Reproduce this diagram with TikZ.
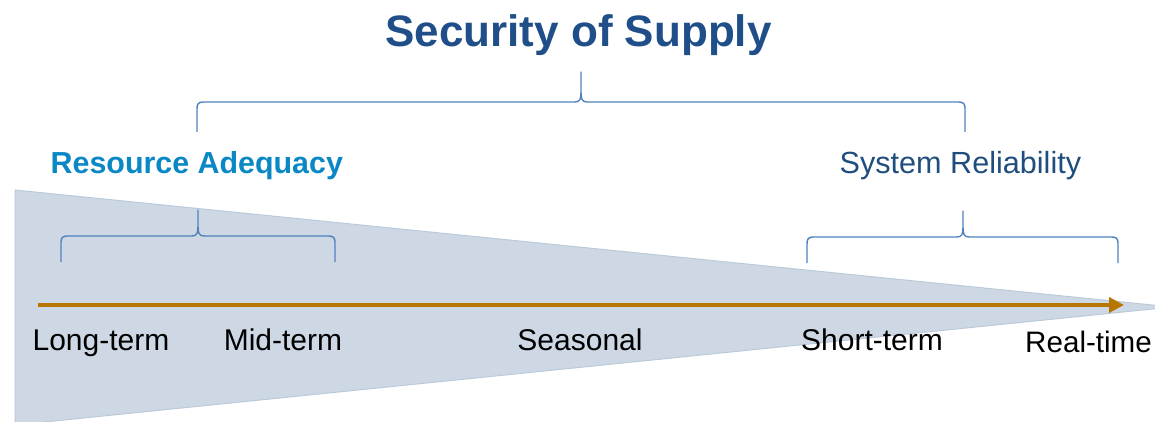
\documentclass[tikz,border=0pt]{standalone}
\usepackage{fontspec}
\setmainfont{Liberation Sans}
\usetikzlibrary{arrows.meta}
\definecolor{titleblue}{HTML}{1F4E89}
\definecolor{relblue}{HTML}{1F4E7E}
\definecolor{adeqblue}{HTML}{0A87C5}
\definecolor{braceblue}{HTML}{4F81BD}
\definecolor{wedgefill}{HTML}{CED8E4}
\definecolor{wedgeedge}{HTML}{BACADB}
\definecolor{timeline}{HTML}{B77600}
\newcommand\mybrace[6]{% x1 x2 xt ybottom yhoriz ytip
  \draw[bracestyle] (#1,#4) -- (#1,#5+8) .. controls (#1,#5+1) and (#1+1,#5) .. (#1+8,#5)
    -- (#3-6,#5) .. controls (#3-1,#5) and (#3,#5-3) .. (#3,#5-10) -- (#3,#6)
    -- (#3,#5-10) .. controls (#3,#5-3) and (#3+1,#5) .. (#3+6,#5)
    -- (#2-8,#5) .. controls (#2-1,#5) and (#2,#5+1) .. (#2,#5+8) -- (#2,#4);}
\tikzset{
  bracestyle/.style={draw=braceblue, line width=1.4pt, line join=round},
  wedge/.style={fill=wedgefill, draw=wedgeedge, line width=1pt},
  timeaxis/.style={draw=timeline, line width=4.7pt, -{Triangle[length=15pt,width=15pt]}},
  ticklabel/.style={anchor=base, font=\fontsize{30}{34}\selectfont, text=black, inner sep=0pt},
  headlabel/.style={anchor=base west, font=\fontsize{30.6}{34}\selectfont, inner sep=0pt},
  titlelabel/.style={anchor=base, font=\fontsize{44}{50}\selectfont\bfseries, text=titleblue, inner sep=0pt}
}
\begin{document}
\begin{tikzpicture}[x=1pt, y=-1pt]
\useasboundingbox (0,0) rectangle (1155,422);
\begin{scope}
\clip (0,0) rectangle (1155,422);
\draw[wedge] (15,190) -- (1172,307) -- (15,425) -- cycle;
\end{scope}
\node[ticklabel, anchor=base west, font=\fontsize{29.6}{34}\selectfont] (real) at (1025,352) {Real-time};
\node[titlelabel] (title) at (578.5,47) {Security of Supply};
\mybrace{197}{965}{581}{132}{102}{72}
\node[headlabel, font=\fontsize{30.4}{34}\selectfont\bfseries, text=adeqblue] (adeq) at (50.5,173) {Resource Adequacy};
\node[headlabel, text=relblue] (rel) at (839.5,173) {System Reliability};
\mybrace{61}{335}{198}{262}{236}{210}
\mybrace{807}{1118}{963}{263}{237}{211}
\coordinate (axisstart) at (38,305);
\coordinate (axisend) at (1124,305);
\draw[timeaxis] (axisstart) -- (axisend);
\node[ticklabel] (long) at (101,350) {Long-term};
\node[ticklabel] (mid) at (283,350) {Mid-term};
\node[ticklabel] (seas) at (580,350) {Seasonal};
\node[ticklabel] (short) at (872,350) {Short-term};
\end{tikzpicture}
\end{document}
